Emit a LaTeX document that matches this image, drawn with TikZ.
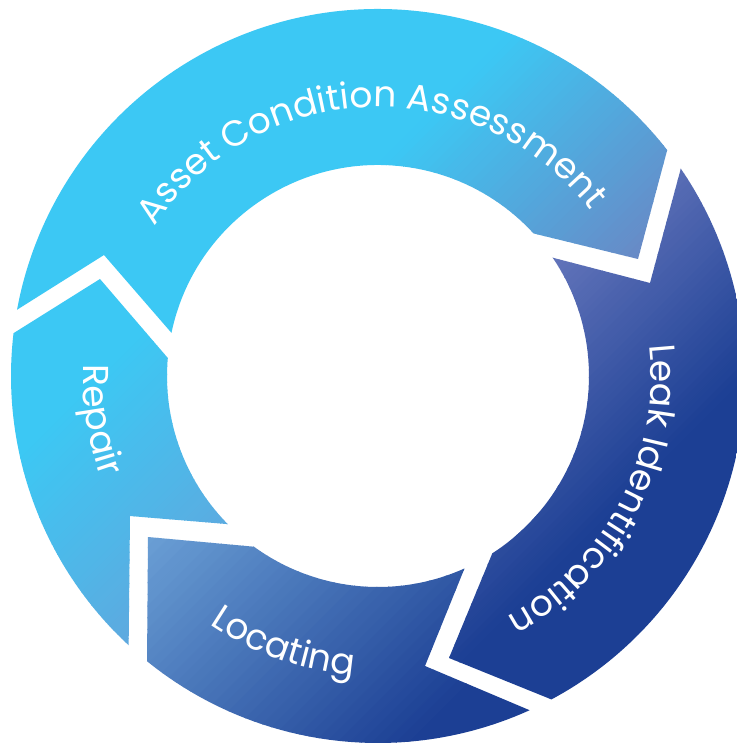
\documentclass[tikz,border=0pt]{standalone}
\usepackage{fontspec}
\setmainfont{Poppins}
\usetikzlibrary{decorations.text}
\definecolor{cy}{HTML}{3CC8F4}
\definecolor{db}{HTML}{1C3F94}
\definecolor{acaend}{HTML}{6A87C4}
\definecolor{leakstart}{HTML}{6274BA}
\definecolor{locstart}{HTML}{6A9FD5}
\definecolor{repend}{HTML}{5FA8DE}
\newcommand\gradfill[4]{%
  \fill[#3] (-1000,-1000) rectangle (#1+0.5,1000);
  \fill[#4] (#2-0.5,-1000) rectangle (1000,1000);
  \foreach \k in {0,...,39}{%
    \pgfmathsetmacro\xa{#1+(#2-#1)*\k/40}%
    \pgfmathsetmacro\xb{#1+(#2-#1)*(\k+1)/40+0.6}%
    \pgfmathtruncatemacro\pp{(\k+0.5)*2.5}%
    \fill[#4!\pp!#3] (\xa,-1000) rectangle (\xb,1000);
  }%
}
\tikzset{
  ringtext/.style={decorate, decoration={text along path, text align=center, text color=white, text={|\fontsize{36}{40}\selectfont|#1}}}
}
\begin{document}
\begin{tikzpicture}[x=1pt,y=1pt]
\useasboundingbox (-378,-368) rectangle (358,376);
\fill[white] (-378,-368) rectangle (358,376);
% Asset Condition Assessment
\begin{scope}
  \clip (169.6:367) -- (-274,121) -- (168.2:211) arc[start angle=168.2, end angle=42.5, radius=211]
    -- (260,117) -- (38.0:367) arc[start angle=38.0, end angle=169.6, radius=367] -- cycle;
  \begin{scope}[rotate=-45]\gradfill{-150}{110}{cy}{acaend}\end{scope}
\end{scope}
% Leak Identification
\begin{scope}
  \clip (34.4:367) -- (272,93) -- (34.1:211) arc[start angle=34.1, end angle=-57.2, radius=211]
    -- (71,-282) -- (-61.8:367) arc[start angle=-61.8, end angle=34.4, radius=367] -- cycle;
  \begin{scope}[rotate=-45]\gradfill{40}{260}{leakstart}{db}\end{scope}
\end{scope}
% Locating
\begin{scope}
  \clip (-65.6:367) -- (47,-290) -- (-65.8:211) arc[start angle=-65.8, end angle=-126.0, radius=211]
    -- (-230,-161) -- (-129.0:367) arc[start angle=-129.0, end angle=-65.6, radius=367] -- cycle;
  \begin{scope}[rotate=-45]\gradfill{-50}{280}{locstart}{db}\end{scope}
\end{scope}
% Repair
\begin{scope}
  \clip (-132.8:367) -- (-248,-140) -- (-135.4:211) arc[start angle=-135.4, end angle=-184.9, radius=211]
    -- (-278,97) -- (173.3:367) arc[start angle=173.3, end angle=227.2, radius=367] -- cycle;
  \begin{scope}[rotate=-45]\gradfill{-200}{20}{cy}{repend}\end{scope}
\end{scope}
% labels
\path[ringtext={Asset Condition Assessment}] (160:269) arc[start angle=160, end angle=24, radius=269];
\path[ringtext={Leak Identification}] (38.5:273) arc[start angle=38.5, end angle=-93.9, radius=273];
\path[ringtext={Locating}] (-160:300) arc[start angle=-160, end angle=-58.8, radius=300];
\path[ringtext={Repair}] (160:295) arc[start angle=160, end angle=218, radius=295];
\end{tikzpicture}
\end{document}
